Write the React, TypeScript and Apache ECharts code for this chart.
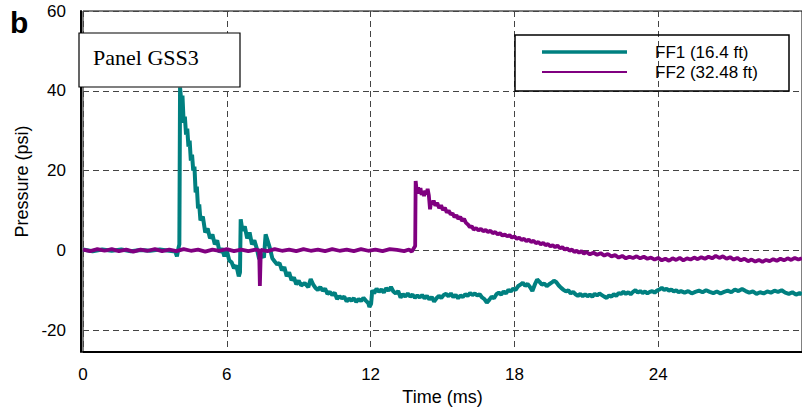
import React, { useEffect, useRef } from "react";
import * as echarts from "echarts";

const xTickStep = 6;
const yTicks = [-20, 0, 20, 40, 60];

const ff1Time = [
  0, 0.4, 0.8, 1.2, 1.6, 2.0, 2.4, 2.8, 3.2, 3.6, 3.85, 3.92, 3.98, 4.02, 4.05, 4.1, 4.15, 4.2, 4.25, 4.3,
  4.35, 4.4, 4.45, 4.5, 4.55, 4.6, 4.65, 4.7, 4.75, 4.8, 4.85, 4.9, 5.0, 5.1, 5.2, 5.3, 5.4, 5.5, 5.6, 5.7,
  5.8, 5.9, 6.0, 6.1, 6.2, 6.3, 6.4, 6.5, 6.55, 6.58, 6.65, 6.75, 6.85, 6.95, 7.05, 7.15, 7.25, 7.35, 7.45, 7.55,
  7.62, 7.7, 7.8, 7.9, 8.0, 8.1, 8.2, 8.3, 8.4, 8.5, 8.6, 8.7, 8.8, 8.9, 9.0, 9.1, 9.25, 9.4, 9.5, 9.6,
  9.7, 9.8, 9.9, 10.0, 10.1, 10.2, 10.3, 10.4, 10.5, 10.6, 10.7, 10.8, 10.9, 11.0, 11.1, 11.2, 11.3, 11.4, 11.5, 11.6,
  11.7, 11.8, 11.9, 11.95, 12.02, 12.07, 12.15, 12.25, 12.35, 12.45, 12.55, 12.65, 12.75, 12.85, 12.95, 13.05, 13.15, 13.25, 13.35, 13.45,
  13.55, 13.65, 13.75, 13.85, 13.95, 14.05, 14.15, 14.25, 14.35, 14.45, 14.55, 14.65, 14.75, 14.85, 14.95, 15.05, 15.15, 15.25, 15.35, 15.45,
  15.55, 15.65, 15.75, 15.85, 15.95, 16.05, 16.15, 16.25, 16.35, 16.45, 16.55, 16.65, 16.75, 16.85, 16.95, 17.05, 17.15, 17.25, 17.35, 17.45,
  17.55, 17.65, 17.75, 17.85, 17.95, 18.05, 18.15, 18.25, 18.35, 18.45, 18.55, 18.65, 18.75, 18.85, 18.95, 19.05, 19.15, 19.25, 19.35, 19.45,
  19.55, 19.65, 19.75, 19.85, 19.95, 20.05, 20.15, 20.25, 20.35, 20.45, 20.55, 20.65, 20.75, 20.85, 20.95, 21.05, 21.15, 21.25, 21.35, 21.45,
  21.55, 21.65, 21.75, 21.85, 21.95, 22.05, 22.15, 22.25, 22.35, 22.45, 22.55, 22.65, 22.75, 22.85, 22.95, 23.05, 23.15, 23.25, 23.35, 23.45,
  23.55, 23.65, 23.75, 23.85, 23.95, 24.05, 24.15, 24.25, 24.35, 24.45, 24.55, 24.65, 24.75, 24.85, 24.95, 25.1, 25.25, 25.4, 25.55, 25.7,
  25.85, 26.0, 26.15, 26.3, 26.45, 26.6, 26.75, 26.9, 27.05, 27.2, 27.35, 27.5, 27.65, 27.8, 27.95, 28.1, 28.25, 28.4, 28.55, 28.7,
  28.85, 29.0, 29.15, 29.3, 29.45, 29.6, 29.75, 29.9, 30
];
const ff1Pressure = [
  0.2, -0.2, 0.2, -0.1, 0.2, -0.2, 0.1, -0.1, 0.2, -0.1, -0.3, -1.5, 0.5, 1.5, 40.8, 37.5, 38.8, 32, 33.5, 29,
  30.5, 26, 27.5, 22.5, 24, 20, 21, 14.5, 16, 10.5, 11.5, 7.5, 8.5, 4.5, 5.5, 3, 4, 1.5, 2.5, -0.5,
  0.5, -1.5, 0, -2.5, -3, -4.5, -3.8, -6.5, -5.5, 7.8, 5, 6, 3, 4.5, 1.5, 2.5, 0.5, -2.2, -1, -1.8,
  4, 2.5, 0.5, -2, -2.8, -3.5, -3.2, -5, -4.2, -6.5, -5.5, -7.5, -6.8, -8.5, -7.6, -8.8, -8.2, -9.2, -7.2, -8.5,
  -9.4, -9.9, -9.2, -10.1, -9.6, -10.9, -10.4, -11.2, -10.6, -12.2, -11.5, -12.0, -11.6, -12.8, -12.1, -12.6, -12.0, -12.9, -12.2, -12.7,
  -11.9, -12.6, -13.2, -14.2, -13.4, -10, -10.8, -9.6, -10.4, -9.8, -10.6, -9.5, -10.1, -9.2, -10.3, -10.8, -10.2, -11.8, -11, -11.6,
  -10.8, -11.6, -11.1, -11.9, -11.3, -11.8, -11.2, -12, -11.4, -12.3, -11.7, -12.8, -12, -11.4, -11.9, -11.2, -10.9, -11.5, -10.8, -11.7,
  -11.2, -12, -11.3, -11.7, -11, -11.4, -10.7, -11.2, -10.8, -11.3, -11.0, -11.8, -12.2, -13.1, -12.4, -11.6, -12, -11, -10.6, -11.1,
  -10.3, -10.8, -9.9, -10.3, -9.6, -9.9, -9.0, -8.6, -8.1, -8.9, -8.4, -9.2, -10.2, -8.6, -7.3, -7.9, -8.6, -8.3, -9.0, -8.5,
  -8.1, -7.6, -8.0, -8.8, -9.4, -9.9, -10.3, -10.0, -10.8, -10.4, -11.0, -11.4, -10.9, -11.5, -11.0, -11.5, -11.1, -11.6, -10.9, -11.3,
  -10.8, -11.2, -11.6, -11.9, -11.3, -11.6, -11.0, -11.4, -10.7, -10.9, -10.4, -10.9, -10.5, -11.0, -10.4, -10.0, -10.6, -10.2, -10.7, -10.3,
  -10.8, -10.4, -10.2, -10.6, -10.1, -9.8, -9.4, -9.9, -9.6, -10.1, -9.8, -10.3, -10.0, -10.5, -10.2, -10.6, -10.2, -10.8, -10.4, -10.1,
  -10.5, -10.0, -10.4, -10.7, -10.3, -10.8, -10.4, -10.1, -10.5, -9.8, -10.2, -9.7, -10.2, -10.6, -10.3, -10.9, -10.5, -10.8, -10.3, -10.6,
  -10.1, -10.4, -10.0, -10.6, -10.9, -10.5, -11.1, -10.7, -11.0
];

const ff2Time = [
  0, 0.3, 0.6, 0.9, 1.2, 1.5, 1.8, 2.1, 2.4, 2.7, 3.0, 3.3, 3.6, 3.9, 4.2, 4.5, 4.8, 5.1, 5.4, 5.7,
  6.0, 6.3, 6.6, 6.9, 7.2, 7.35, 7.38, 7.42, 7.7, 8.0, 8.3, 8.6, 8.9, 9.2, 9.5, 9.8, 10.1, 10.4, 10.7, 11.0,
  11.3, 11.6, 11.9, 12.2, 12.5, 12.8, 13.1, 13.4, 13.6, 13.72, 13.86, 13.88, 13.93, 13.98, 14.03, 14.08, 14.13, 14.18, 14.23, 14.28,
  14.33, 14.38, 14.43, 14.48, 14.53, 14.58, 14.63, 14.7, 14.78, 14.86, 14.94, 15.02, 15.1, 15.18, 15.26, 15.34, 15.42, 15.5, 15.58, 15.66,
  15.74, 15.82, 15.9, 15.98, 16.06, 16.14, 16.22, 16.3, 16.4, 16.5, 16.6, 16.7, 16.8, 16.9, 17.0, 17.1, 17.2, 17.3, 17.4, 17.5,
  17.6, 17.7, 17.8, 17.9, 18.0, 18.1, 18.2, 18.3, 18.4, 18.5, 18.6, 18.7, 18.8, 18.9, 19.0, 19.1, 19.2, 19.3, 19.4, 19.5,
  19.6, 19.7, 19.8, 19.9, 20.0, 20.1, 20.2, 20.3, 20.4, 20.5, 20.6, 20.7, 20.8, 20.9, 21.0, 21.15, 21.3, 21.45, 21.6, 21.75,
  21.9, 22.05, 22.2, 22.35, 22.5, 22.65, 22.8, 22.95, 23.1, 23.25, 23.4, 23.55, 23.7, 23.85, 24.0, 24.15, 24.3, 24.45, 24.6, 24.75,
  24.9, 25.05, 25.2, 25.35, 25.5, 25.65, 25.8, 25.95, 26.1, 26.25, 26.4, 26.55, 26.7, 26.85, 27.0, 27.15, 27.3, 27.45, 27.6, 27.75,
  27.9, 28.05, 28.2, 28.35, 28.5, 28.65, 28.8, 28.95, 29.1, 29.25, 29.4, 29.55, 29.7, 29.85, 30
];
const ff2Pressure = [
  0.2, -0.2, 0.3, -0.1, 0.3, -0.2, 0.2, -0.3, 0.2, -0.1, 0.3, -0.2, 0.2, -0.2, 0.3, -0.1, 0.2, -0.3, 0.2, -0.1,
  0.3, -0.2, 0.2, -0.2, 0.2, 0, -8.9, 0.1, -0.2, 0.3, -0.1, 0.2, -0.2, 0.3, -0.1, 0.2, -0.2, 0.3, -0.1, 0.2,
  -0.2, 0.3, -0.1, 0.2, -0.2, 0.3, 0.1, -0.2, 0.2, -0.3, 1.1, 17.4, 14.6, 15.8, 14.2, 15.6, 13.9, 14.8, 13.6, 15.0,
  14.0, 15.4, 13.8, 10.3, 12.4, 11.5, 12.5, 11.2, 11.9, 10.6, 11.3, 10.1, 10.7, 9.5, 10.0, 9.0, 9.3, 8.3, 8.8, 7.9,
  8.4, 7.4, 7.9, 6.9, 6.5, 5.8, 6.1, 5.2, 5.6, 5.0, 5.4, 4.8, 5.1, 4.6, 4.9, 4.3, 4.6, 4.0, 4.3, 3.7,
  4.0, 3.5, 3.8, 3.2, 3.5, 2.9, 3.2, 2.6, 2.9, 2.3, 2.7, 2.1, 2.4, 1.8, 2.1, 1.5, 1.9, 1.3, 1.6, 1.0,
  1.3, 0.8, 1.2, 0.5, 0.8, 0.2, 0.5, -0.1, 0.2, -0.4, -0.1, -0.6, -0.2, -0.8, -0.4, -1.0, -0.6, -1.1, -0.7, -1.3,
  -0.9, -1.5, -1.2, -1.8, -1.4, -2.0, -1.6, -1.9, -1.5, -2.0, -1.6, -2.1, -1.8, -2.3, -1.9, -2.5, -2.1, -2.6, -2.0, -2.4,
  -1.9, -2.5, -2.0, -2.3, -1.8, -2.2, -1.7, -2.1, -1.6, -2.0, -1.4, -1.9, -1.5, -2.1, -1.7, -2.3, -1.9, -2.5, -2.1, -2.7,
  -2.3, -2.8, -2.4, -2.9, -2.4, -2.7, -2.2, -2.6, -2.1, -2.5, -2.0, -2.4, -1.9, -2.3, -2.0
];

const seriesNames = ["FF1 (16.4 ft)", "FF2 (32.48 ft)"];
const seriesColors = ["#008080", "#800080"];

const SANS = '"Liberation Sans", Arial, Helvetica, sans-serif';
const SERIF = '"Liberation Serif", "Times New Roman", serif';

export default function App() {
  const ref = useRef<HTMLDivElement>(null);
  useEffect(() => {
    const chart = echarts.init(ref.current!, null, { renderer: "svg" });
    const zip = (t: number[], p: number[]) => t.map((v, i) => [v, p[i]]);
    chart.setOption({
      animation: false,
      backgroundColor: "#fff",
      grid: {
        left: 83,
        top: 11,
        width: 726,
        height: 342,
        show: true,
        borderColor: "#000",
        borderWidth: 1,
        backgroundColor: "transparent",
      },
      xAxis: {
        type: "value",
        min: 0,
        max: 30,
        interval: xTickStep,
        axisLine: { show: true, onZero: false, lineStyle: { color: "#000", width: 2 } },
        axisTick: { show: false },
        axisLabel: { showMaxLabel: false, color: "#000", fontSize: 17, fontFamily: SANS, margin: 14 },
        splitLine: { show: true, lineStyle: { color: "#444", type: [6, 4], width: 1 } },
        name: "Time (ms)",
        nameLocation: "middle",
        nameGap: 34,
        nameTextStyle: { color: "#000", fontSize: 18, fontFamily: SANS },
      },
      yAxis: {
        type: "value",
        min: -25.5,
        max: 60,
        offset: 2,
        axisLine: { show: true, onZero: false, lineStyle: { color: "#000", width: 2 } },
        axisTick: { show: false, customValues: yTicks },
        axisLabel: { customValues: yTicks, color: "#000", fontSize: 17, fontFamily: SANS, margin: 15 },
        splitLine: { show: true, lineStyle: { color: "#444", type: [6, 4], width: 1 } },
        name: "Pressure (psi)",
        nameLocation: "middle",
        nameGap: 37,
        nameTextStyle: { color: "#000", fontSize: 18, fontFamily: SANS },
      },
      series: [
        {
          name: seriesNames[0],
          type: "line",
          data: zip(ff1Time, ff1Pressure),
          showSymbol: false,
          lineStyle: { color: seriesColors[0], width: 4 },
          z: 2,
        },
        {
          name: seriesNames[1],
          type: "line",
          data: zip(ff2Time, ff2Pressure),
          showSymbol: false,
          lineStyle: { color: seriesColors[1], width: 3.8 },
          z: 3,
        },
      ],
      graphic: [
        {
          type: "text",
          left: 10,
          top: 7,
          z: 100,
          style: { text: "b", font: `bold 30px ${SANS}`, fill: "#000" },
        },
        {
          type: "group",
          z: 100,
          children: [
            {
              type: "rect",
              shape: { x: 79, y: 33, width: 161, height: 54 },
              style: { fill: "#fff", stroke: "#000", lineWidth: 1.2 },
              z: 100,
            },
            {
              type: "text",
              x: 93,
              y: 57,
              z: 101,
              style: { text: "Panel GSS3", font: `22px ${SERIF}`, fill: "#000", verticalAlign: "middle" },
            },
          ],
        },
        {
          type: "group",
          z: 100,
          children: [
            {
              type: "rect",
              shape: { x: 515, y: 35, width: 274, height: 56 },
              style: { fill: "none", stroke: "#000", lineWidth: 1.5 },
              z: 100,
            },
            {
              type: "line",
              shape: { x1: 542, y1: 52, x2: 627, y2: 52 },
              style: { stroke: seriesColors[0], lineWidth: 3.5 },
              z: 100,
            },
            {
              type: "line",
              shape: { x1: 542, y1: 72, x2: 627, y2: 72 },
              style: { stroke: seriesColors[1], lineWidth: 2 },
              z: 100,
            },
            {
              type: "text",
              x: 655,
              y: 52,
              z: 100,
              style: { text: seriesNames[0], font: `17px ${SANS}`, fill: "#000", verticalAlign: "middle" },
            },
            {
              type: "text",
              x: 655,
              y: 72,
              z: 100,
              style: { text: seriesNames[1], font: `17px ${SANS}`, fill: "#000", verticalAlign: "middle" },
            },
          ],
        },
      ],
    });
    return () => chart.dispose();
  }, []);
  return (
    <div
      ref={ref}
      style={{ position: "fixed", left: 0, top: 0, width: 802, height: 411, background: "#fff" }}
    />
  );
}
